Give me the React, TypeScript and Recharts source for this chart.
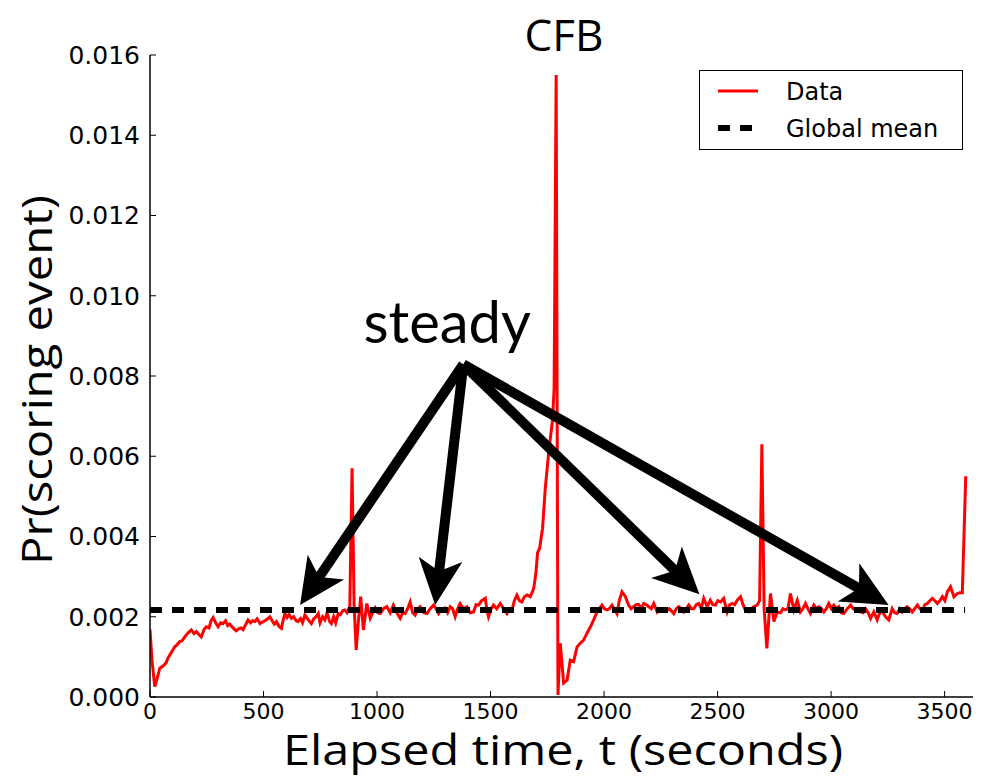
import React from 'react';
import { LineChart, Line, XAxis, YAxis, ReferenceLine, ReferenceDot, Legend, Customized } from 'recharts';

// Pr(scoring event) vs elapsed time (seconds), per quarter
const quarter1: [number, number][] = [
  [0, 0.00168], [9, 0.0009], [21, 0.00026], [31, 0.00045], [43, 0.00072], [57, 0.00077], [71, 0.00085],
  [79, 0.00097], [93, 0.0011], [109, 0.00125], [119, 0.0013], [131, 0.00138], [141, 0.0014], [153, 0.0015],
  [168, 0.0016], [182, 0.00167], [194, 0.00158], [204, 0.00163], [216, 0.00155], [226, 0.0015], [238, 0.00168],
  [248, 0.00175], [260, 0.00172], [269, 0.0019], [278, 0.00198], [289, 0.00185], [300, 0.00175], [311, 0.00185],
  [322, 0.00183], [333, 0.0019], [342, 0.00178], [351, 0.00182], [361, 0.00175], [370, 0.0017], [380, 0.00165],
  [390, 0.0017], [401, 0.00172], [410, 0.00168], [421, 0.0018], [432, 0.00192], [443, 0.00185], [452, 0.0019],
  [462, 0.00188], [472, 0.00195], [485, 0.00183], [498, 0.00188], [507, 0.0019], [518, 0.00195], [528, 0.002],
  [538, 0.0019], [547, 0.00182], [557, 0.00188], [569, 0.00175], [579, 0.00171], [586, 0.0019], [594, 0.00208],
  [604, 0.00198], [613, 0.00205], [623, 0.00196], [633, 0.002], [644, 0.0019], [652, 0.00188], [663, 0.00195],
  [672, 0.00185], [682, 0.00204], [694, 0.00195], [703, 0.00188], [711, 0.00183], [721, 0.00195], [732, 0.002],
  [741, 0.00208], [749, 0.00185], [760, 0.002], [770, 0.00192], [780, 0.0021], [791, 0.00188], [799, 0.00183],
  [809, 0.002], [818, 0.00185], [829, 0.00208], [838, 0.00205], [849, 0.00215], [858, 0.00217], [868, 0.0021],
  [880, 0.00225],
];
const quarter2: [number, number][] = [
  [890, 0.0057], [899, 0.0023], [908, 0.00117], [918, 0.0019], [928, 0.0025], [940, 0.00167], [955, 0.00233],
  [970, 0.00196], [981, 0.0021], [992, 0.00222], [1003, 0.0021], [1014, 0.00208], [1029, 0.0022], [1043, 0.00225],
  [1058, 0.0021], [1072, 0.00229], [1087, 0.0021], [1102, 0.00196], [1113, 0.0021], [1124, 0.00208], [1135, 0.0022],
  [1146, 0.00237], [1157, 0.0021], [1168, 0.00204], [1179, 0.0022], [1190, 0.00225], [1206, 0.0021], [1220, 0.00208],
  [1234, 0.0022], [1249, 0.00229], [1260, 0.0022], [1271, 0.00208], [1285, 0.0022], [1300, 0.00222], [1311, 0.0021],
  [1322, 0.00225], [1333, 0.0022], [1344, 0.002], [1355, 0.0022], [1366, 0.00233], [1381, 0.0022], [1396, 0.00225],
  [1411, 0.0021], [1425, 0.00212], [1436, 0.0023], [1447, 0.00229], [1461, 0.0024], [1477, 0.00246], [1483, 0.0022],
  [1491, 0.002], [1503, 0.0022], [1513, 0.00229], [1527, 0.0022], [1543, 0.00233], [1557, 0.0022], [1572, 0.00208],
  [1582, 0.0022], [1594, 0.00216], [1605, 0.0024], [1616, 0.00254], [1627, 0.0024], [1638, 0.00237], [1649, 0.0025],
  [1661, 0.00254], [1675, 0.0025], [1690, 0.0027], [1700, 0.0031], [1707, 0.0036], [1716, 0.0037], [1729, 0.0042],
  [1741, 0.0052], [1758, 0.0062], [1773, 0.0069], [1780, 0.0077], [1789, 0.0155],
];
const quarter3: [number, number][] = [
  [1797, 0.00005], [1807, 0.00134], [1822, 0.00035], [1837, 0.00042], [1851, 0.00092], [1866, 0.00088],
  [1881, 0.00125], [1895, 0.00134], [1910, 0.00142], [1925, 0.00159], [1940, 0.00175], [1954, 0.00192],
  [1969, 0.00212], [1979, 0.0022], [1991, 0.00229], [2001, 0.0022], [2013, 0.00217], [2023, 0.0022], [2035, 0.00229],
  [2045, 0.0022], [2057, 0.00208], [2067, 0.0024], [2079, 0.00262], [2094, 0.0025], [2108, 0.00229], [2119, 0.0022],
  [2130, 0.00225], [2141, 0.0023], [2152, 0.00231], [2164, 0.0022], [2175, 0.00233], [2186, 0.0023], [2197, 0.00225],
  [2208, 0.0022], [2219, 0.00233], [2234, 0.00212], [2245, 0.0022], [2256, 0.00216], [2267, 0.0022], [2278, 0.00216],
  [2288, 0.0022], [2307, 0.00208], [2318, 0.0022], [2329, 0.00225], [2340, 0.0022], [2351, 0.00212], [2362, 0.0022],
  [2373, 0.00229], [2384, 0.0022], [2395, 0.0022], [2406, 0.0023], [2417, 0.00233], [2428, 0.0022], [2439, 0.00246],
  [2454, 0.00225], [2468, 0.00241], [2479, 0.0023], [2490, 0.00229], [2501, 0.0024], [2513, 0.00237], [2527, 0.00246],
  [2542, 0.00212], [2553, 0.0023], [2564, 0.00233], [2575, 0.0023], [2586, 0.00241], [2601, 0.0025], [2612, 0.0023],
  [2623, 0.00216], [2637, 0.00212], [2648, 0.0022], [2659, 0.00225], [2674, 0.00229], [2685, 0.0024],
];
const quarter4: [number, number][] = [
  [2695, 0.0063], [2705, 0.0022], [2717, 0.00121], [2733, 0.00258], [2748, 0.00188], [2762, 0.00212], [2777, 0.0021],
  [2788, 0.0022], [2799, 0.00217], [2810, 0.0022], [2821, 0.00258], [2836, 0.00217], [2851, 0.00241], [2865, 0.00212],
  [2876, 0.0022], [2887, 0.00233], [2898, 0.0022], [2909, 0.00208], [2924, 0.00229], [2935, 0.0022], [2946, 0.00225],
  [2957, 0.0022], [2968, 0.00212], [2979, 0.0022], [2990, 0.00233], [3001, 0.0022], [3012, 0.00229], [3023, 0.0022],
  [3034, 0.00225], [3045, 0.0021], [3056, 0.00208], [3071, 0.0022], [3086, 0.00229], [3097, 0.0022], [3108, 0.00216],
  [3119, 0.0022], [3130, 0.00212], [3141, 0.0021], [3152, 0.0022], [3163, 0.0021], [3174, 0.00196], [3188, 0.00212],
  [3203, 0.00192], [3218, 0.00216], [3229, 0.0021], [3240, 0.002], [3254, 0.00192], [3269, 0.0022], [3280, 0.0021],
  [3291, 0.00208], [3302, 0.0022], [3313, 0.00212], [3324, 0.0022], [3335, 0.00225], [3346, 0.0022], [3357, 0.00212],
  [3368, 0.0022], [3380, 0.00229], [3391, 0.0022], [3402, 0.00216], [3413, 0.0023], [3424, 0.00233], [3435, 0.0024],
  [3446, 0.00246], [3457, 0.0024], [3468, 0.00233], [3479, 0.0024], [3490, 0.0025], [3501, 0.0024], [3512, 0.00262],
  [3526, 0.00275], [3541, 0.0025], [3556, 0.00258], [3567, 0.0026], [3578, 0.0026], [3593, 0.0055],
];

const globalMean = 0.00217;
const meanSpan = [0, 3590];

const xTicks = [0, 500, 1000, 1500, 2000, 2500, 3000, 3500];
const yTicks = [0, 0.002, 0.004, 0.006, 0.008, 0.01, 0.012, 0.014, 0.016];
const xDomain: [number, number] = [0, 3625];
const yDomain: [number, number] = [0, 0.016];

const titleText = 'CFB';
const xLabel = 'Elapsed time, t (seconds)';
const yLabel = 'Pr(scoring event)';
const noteText = 'steady';
const notePoint = { t: 1309, v: 0.00882 };
const arrowOrigin = { t: 1380, v: 0.00829 };
const arrowTargets = [
  { t: 661, v: 0.00229 },
  { t: 1256, v: 0.00229 },
  { t: 2420, v: 0.00256 },
  { t: 3253, v: 0.00229 },
];

const dataSeries = [...quarter1, ...quarter2, ...quarter3, ...quarter4].map(([t, v]) => ({ t, v }));
const meanSeries = meanSpan.map((t) => ({ t, v: globalMean }));

const ArrowShape = (props: any) => {
  const { x1, y1, x2, y2 } = props;
  if ([x1, y1, x2, y2].some((n) => typeof n !== 'number' || isNaN(n))) return null;
  const dx = x2 - x1;
  const dy = y2 - y1;
  const len = Math.hypot(dx, dy);
  const ux = dx / len;
  const uy = dy / len;
  const nx = -uy;
  const ny = ux;
  const L = 46;
  const W = 22;
  const N = 12;
  const bx = x2 - ux * L;
  const by = y2 - uy * L;
  const mx = x2 - ux * (L - N);
  const my = y2 - uy * (L - N);
  const pts = `${x2},${y2} ${bx + nx * W},${by + ny * W} ${mx},${my} ${bx - nx * W},${by - ny * W}`;
  return (
    <g>
      <line x1={x1} y1={y1} x2={mx} y2={my} stroke="#000" strokeWidth={10} />
      <polygon points={pts} fill="#000" />
    </g>
  );
};

const NoteShape = (props: any) => {
  const { cx, cy } = props;
  if (typeof cx !== 'number' || typeof cy !== 'number') return null;
  return (
    <text x={cx} y={cy} textAnchor="middle" fontFamily="Lato, 'Open Sans', sans-serif" fontSize={58} fill="#000">
      {noteText}
    </text>
  );
};

const StaticText = () => (
  <g>
    <text x={564} y={51} textAnchor="middle" fontFamily="'Open Sans', sans-serif" fontSize={44} fill="#000">
      {titleText}
    </text>
    <text
      x={563}
      y={765}
      textAnchor="middle"
      fontFamily="'Open Sans', sans-serif"
      fontSize={42}
      fill="#000"
      textLength={560}
      lengthAdjust="spacingAndGlyphs"
    >
      {xLabel}
    </text>
    <text
      x={0}
      y={0}
      transform="translate(52,380) rotate(-90)"
      textAnchor="middle"
      fontFamily="'Open Sans', sans-serif"
      fontSize={42}
      fill="#000"
      textLength={370}
      lengthAdjust="spacingAndGlyphs"
    >
      {yLabel}
    </text>
  </g>
);

const LegendBox = (props: any) => {
  const payload = props.payload || [];
  return (
    <div
      style={{
        width: 264,
        height: 80,
        boxSizing: 'border-box',
        border: '1.5px solid #000',
        background: '#fff',
        paddingTop: 2,
      }}
    >
      {payload.map((entry: any, i: number) => {
        const dashed = entry.payload && entry.payload.strokeDasharray;
        return (
          <div key={i} style={{ height: 37, display: 'flex', alignItems: 'center' }}>
            <svg width={86} height={37} style={{ display: 'block' }}>
              <line
                x1={18}
                y1={18}
                x2={58}
                y2={18}
                stroke={entry.color}
                strokeWidth={dashed ? 6 : 3}
                strokeDasharray={dashed ? '12 10' : undefined}
              />
            </svg>
            <span style={{ fontFamily: "'DejaVu Sans', sans-serif", fontSize: 24, color: '#000', whiteSpace: 'nowrap' }}>
              {entry.value}
            </span>
          </div>
        );
      })}
    </div>
  );
};

export default function App() {
  return (
    <div style={{ position: 'absolute', left: 0, top: 0, background: '#fff' }}>
      <LineChart width={983} height={776} margin={{ top: 55, right: 10, bottom: 0, left: 0 }}>
        <XAxis
          xAxisId={0}
          dataKey="t"
          type="number"
          domain={xDomain}
          ticks={xTicks}
          interval={0}
          allowDataOverflow
          height={79}
          tickSize={-6}
          tickMargin={12}
          axisLine={{ stroke: '#000', strokeWidth: 1.5 }}
          tickLine={{ stroke: '#000', strokeWidth: 1 }}
          tick={{ fontFamily: "'DejaVu Sans', sans-serif", fontSize: 22, fill: '#000' }}
        />
        <XAxis
          xAxisId="top"
          orientation="top"
          dataKey="t"
          type="number"
          domain={xDomain}
          ticks={xTicks}
          interval={0}
          allowDataOverflow
          height={0}
          tickSize={-6}
          axisLine={{ stroke: '#000', strokeWidth: 1.5 }}
          tickLine={{ stroke: '#000', strokeWidth: 1 }}
          tick={false}
        />
        <YAxis
          yAxisId={0}
          type="number"
          domain={yDomain}
          ticks={yTicks}
          interval={0}
          allowDataOverflow
          width={150}
          tickSize={-6}
          tickMargin={16}
          tickFormatter={(v: number) => v.toFixed(3)}
          axisLine={{ stroke: '#000', strokeWidth: 1.5 }}
          tickLine={{ stroke: '#000', strokeWidth: 1 }}
          tick={{ fontFamily: "'DejaVu Sans', sans-serif", fontSize: 25, fill: '#000' }}
        />
        <YAxis
          yAxisId="right"
          orientation="right"
          type="number"
          domain={yDomain}
          ticks={yTicks}
          interval={0}
          allowDataOverflow
          width={0}
          tickSize={-6}
          axisLine={{ stroke: '#000', strokeWidth: 1.5 }}
          tickLine={{ stroke: '#000', strokeWidth: 1 }}
          tick={false}
        />
        <Line
          data={dataSeries}
          dataKey="v"
          name="Data"
          type="linear"
          stroke="#ff0000"
          strokeWidth={3}
          dot={false}
          activeDot={false}
          isAnimationActive={false}
        />
        <Line
          data={meanSeries}
          dataKey="v"
          name="Global mean"
          type="linear"
          stroke="#000000"
          strokeWidth={6}
          strokeDasharray="12 10"
          dot={false}
          activeDot={false}
          isAnimationActive={false}
        />
        {arrowTargets.map((p, i) => (
          <ReferenceLine
            key={i}
            segment={[
              { x: arrowOrigin.t, y: arrowOrigin.v },
              { x: p.t, y: p.v },
            ]}
            ifOverflow="visible"
            shape={ArrowShape}
          />
        ))}
        <ReferenceDot x={notePoint.t} y={notePoint.v} r={0} ifOverflow="visible" shape={NoteShape} />
        <Legend
          layout="horizontal"
          align="center"
          verticalAlign="middle"
          content={<LegendBox />}
          wrapperStyle={{ position: 'absolute', left: 699, top: 70, width: 264, height: 80 }}
        />
        <Customized component={<StaticText />} />
      </LineChart>
    </div>
  );
}
